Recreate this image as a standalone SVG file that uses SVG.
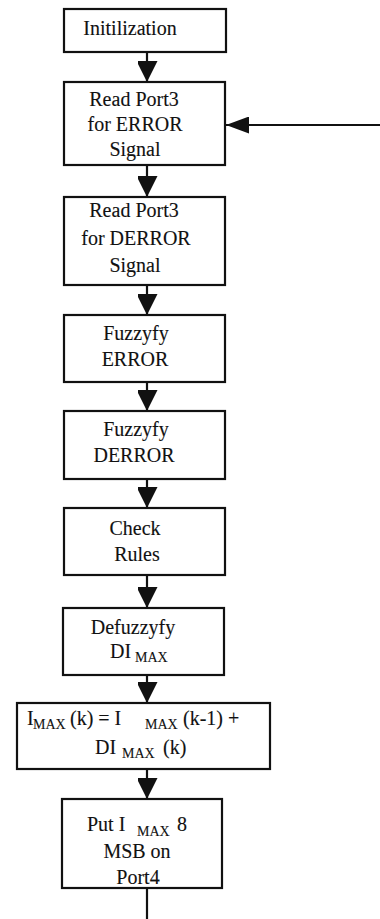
<svg xmlns="http://www.w3.org/2000/svg" width="380" height="919" viewBox="0 0 380 919">
  <style>
    .box { fill: #ffffff; stroke: #111111; stroke-width: 2.2; }
    .lbl { font-family: "Liberation Serif", "Times New Roman", "DejaVu Serif", serif; font-size: 20px; fill: #111111; stroke: #111111; stroke-width: 0.12; }
    .mid { text-anchor: middle; }
    .sub { font-size: 14px; stroke-width: 0.1; }
    .wire { fill: none; stroke: #111111; stroke-width: 2.2; }
  </style>
  <defs>
    <marker id="head" viewBox="0 0 21 20" refX="21" refY="10.5" markerWidth="21" markerHeight="20" markerUnits="userSpaceOnUse" orient="auto">
      <path d="M0,0 L21,10.5 L0,21 Z" fill="#111111"/>
    </marker>
    <marker id="headSide" viewBox="0 0 23 17" refX="23" refY="8.5" markerWidth="23" markerHeight="17" markerUnits="userSpaceOnUse" orient="auto">
      <path d="M0,0 L23,8.5 L0,17 Z" fill="#111111"/>
    </marker>
  </defs>

  <rect width="380" height="919" fill="#ffffff"/>

  <!-- connectors -->
  <g id="connectors">
    <path class="wire" d="M147,52 V82" marker-end="url(#head)"/>
    <path class="wire" d="M147,165 V197" marker-end="url(#head)"/>
    <path class="wire" d="M147,285 V315" marker-end="url(#head)"/>
    <path class="wire" d="M147,382 V411" marker-end="url(#head)"/>
    <path class="wire" d="M147,479 V508" marker-end="url(#head)"/>
    <path class="wire" d="M147,575 V608" marker-end="url(#head)"/>
    <path class="wire" d="M147,675 V703" marker-end="url(#head)"/>
    <path class="wire" d="M147,769 V799" marker-end="url(#head)"/>
    <path class="wire" d="M147,888 V919"/>
    <path class="wire" d="M380,125 H226" marker-end="url(#headSide)"/>
  </g>

  <g id="init">
    <rect class="box" x="64" y="9" width="162" height="43"/>
    <text class="lbl mid" x="130" y="35">Initilization</text>
  </g>

  <g id="read-error">
    <rect class="box" x="64" y="82" width="161" height="83"/>
    <text class="lbl mid" x="134" y="106">Read Port3</text>
    <text class="lbl mid" x="135" y="131">for ERROR</text>
    <text class="lbl mid" x="135" y="156">Signal</text>
  </g>

  <g id="read-derror">
    <rect class="box" x="64" y="197" width="161" height="88"/>
    <text class="lbl mid" x="134" y="217">Read Port3</text>
    <text class="lbl mid" x="136" y="245">for DERROR</text>
    <text class="lbl mid" x="135" y="272">Signal</text>
  </g>

  <g id="fuzzy-error">
    <rect class="box" x="64" y="315" width="161" height="67"/>
    <text class="lbl mid" x="136" y="340">Fuzzyfy</text>
    <text class="lbl mid" x="135" y="366">ERROR</text>
  </g>

  <g id="fuzzy-derror">
    <rect class="box" x="64" y="411" width="161" height="68"/>
    <text class="lbl mid" x="136" y="436">Fuzzyfy</text>
    <text class="lbl mid" x="134" y="462">DERROR</text>
  </g>

  <g id="check-rules">
    <rect class="box" x="64" y="508" width="161" height="67"/>
    <text class="lbl mid" x="135" y="535">Check</text>
    <text class="lbl mid" x="137" y="561">Rules</text>
  </g>

  <g id="defuzzy">
    <rect class="box" x="63" y="608" width="161" height="67"/>
    <text class="lbl mid" x="133" y="634">Defuzzyfy</text>
    <text class="lbl" x="110" y="658">DI</text>
    <text class="lbl sub" x="135" y="662">MAX</text>
  </g>

  <g id="update-imax">
    <rect class="box" x="17" y="703" width="253" height="66"/>
    <text class="lbl" x="27" y="725">I</text>
    <text class="lbl sub" x="33" y="729">MAX</text>
    <text class="lbl" x="70" y="725">(k) = I</text>
    <text class="lbl sub" x="145" y="729">MAX</text>
    <text class="lbl" x="183" y="725">(k-1) +</text>
    <text class="lbl" x="95" y="754">DI</text>
    <text class="lbl sub" x="122" y="758">MAX</text>
    <text class="lbl" x="163" y="754">(k)</text>
  </g>

  <g id="output">
    <rect class="box" x="62" y="799" width="160" height="89"/>
    <text class="lbl" x="87" y="831">Put I</text>
    <text class="lbl sub" x="137" y="836">MAX</text>
    <text class="lbl" x="177" y="831">8</text>
    <text class="lbl mid" x="137" y="858">MSB on</text>
    <text class="lbl mid" x="138" y="884">Port4</text>
  </g>
</svg>
